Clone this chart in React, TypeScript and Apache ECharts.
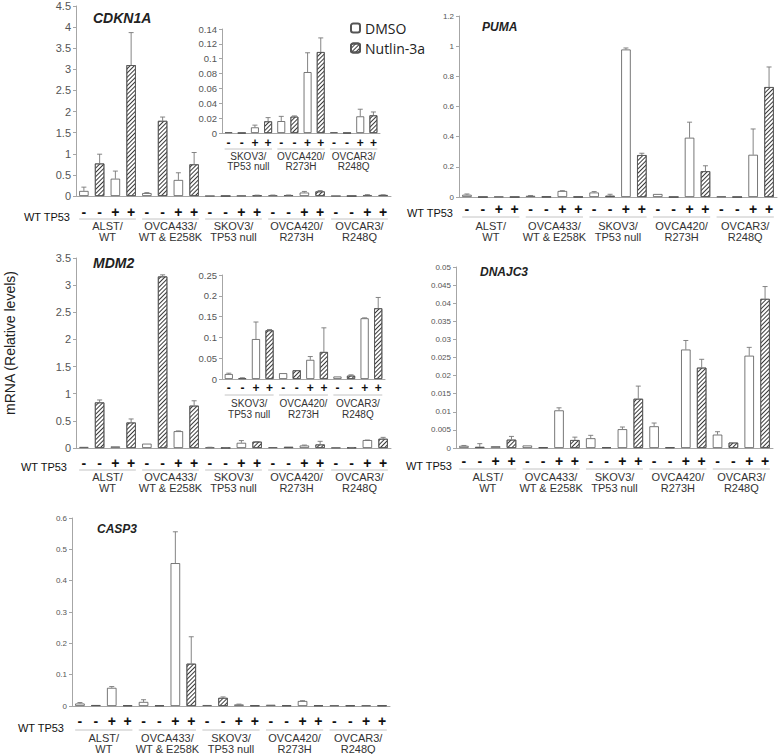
import React, { useEffect, useRef } from 'react';
import * as echarts from 'echarts';

// ---------- data ----------
const cellLines = ['ALST/\nWT', 'OVCA433/\nWT & E258K', 'SKOV3/\nTP53 null', 'OVCA420/\nR273H', 'OVCAR3/\nR248Q'];
const wtTP53 = ['-', '-', '+', '+'];
const treatments = ['DMSO', 'Nutlin-3a', 'DMSO', 'Nutlin-3a'];
const legendNames = ['DMSO', 'Nutlin-3a'];
const conditionLabels = cellLines.flatMap(() => wtTP53);

const cdkn1aMean = [0.12, 0.77, 0.41, 3.1, 0.07, 1.78, 0.38, 0.75, 0.001, 0, 0.0076, 0.0157, 0.016, 0.022, 0.082, 0.109, 0.001, 0, 0.0224, 0.0238];
const cdkn1aErr = [0.09, 0.22, 0.18, 0.77, 0.01, 0.09, 0.17, 0.28, 0, 0, 0.003, 0.005, 0.0064, 0.001, 0.026, 0.019, 0, 0, 0.0096, 0.0045];

const pumaMean = [0.015, 0, 0.002, 0, 0.008, 0.002, 0.04, 0.001, 0.03, 0.008, 0.978, 0.278, 0.02, 0, 0.393, 0.171, 0.003, 0, 0.28, 0.729];
const pumaErr = [0.005, 0, 0, 0, 0.002, 0, 0.002, 0, 0.006, 0.01, 0.01, 0.012, 0, 0, 0.103, 0.036, 0, 0, 0.171, 0.133];

const mdm2Mean = [0.02, 0.84, 0.03, 0.47, 0.08, 3.16, 0.31, 0.78, 0.012, 0.002, 0.096, 0.117, 0.014, 0.021, 0.046, 0.065, 0.006, 0.008, 0.146, 0.17];
const mdm2Err = [0, 0.045, 0, 0.065, 0, 0.03, 0.005, 0.09, 0.002, 0.001, 0.041, 0.002, 0, 0, 0.008, 0.058, 0, 0.002, 0.001, 0.026];

const dnajc3Mean = [0.0006, 0.0003, 0.0005, 0.0023, 0.0007, 0.0002, 0.0104, 0.0022, 0.0027, 0.0002, 0.0052, 0.0136, 0.006, 0.0002, 0.0272, 0.0222, 0.0037, 0.0015, 0.0255, 0.0412];
const dnajc3Err = [0.0001, 0.0009, 0, 0.0009, 0, 0, 0.0007, 0.0008, 0.0008, 0, 0.0006, 0.0035, 0.0009, 0, 0.0025, 0.0023, 0.0008, 0, 0.0023, 0.0034];

const casp3Mean = [0.008, 0.003, 0.058, 0.002, 0.013, 0.002, 0.456, 0.135, 0.003, 0.026, 0.005, 0.002, 0.004, 0.002, 0.016, 0.002, 0.002, 0.002, 0.002, 0.002];
const casp3Err = [0.003, 0, 0.004, 0, 0.007, 0, 0.1, 0.086, 0, 0.003, 0.001, 0, 0, 0, 0.001, 0, 0, 0, 0, 0];

const geneNames = ['CDKN1A', 'PUMA', 'MDM2', 'DNAJC3', 'CASP3'];
const rowLabel = 'WT TP53';
const yAxisTitle = 'mRNA (Relative levels)';

// ---------- layout ----------
type Panel = {
  mean: number[]; err: number[]; start: number;
  left: number; top: number; width: number; height: number;
  max: number; interval: number; tickSize: number;
  signSize: number; signMargin: number; groupSize: number; groupMargin: number; groupLH: number; underline: number;
};

const panels: Panel[] = [
  { mean: cdkn1aMean, err: cdkn1aErr, start: 0, left: 76, top: 6, width: 315, height: 190, max: 4.5, interval: 0.5, tickSize: 11, signSize: 14, signMargin: 9, groupSize: 11, groupMargin: 24, groupLH: 11, underline: 23 },
  { mean: cdkn1aMean, err: cdkn1aErr, start: 8, left: 222, top: 29, width: 158, height: 104, max: 0.14, interval: 0.02, tickSize: 9.5, signSize: 12, signMargin: 4, groupSize: 10, groupMargin: 18, groupLH: 10, underline: 16 },
  { mean: pumaMean, err: pumaErr, start: 0, left: 459, top: 16, width: 318, height: 181, max: 1.2, interval: 0.2, tickSize: 8, signSize: 14, signMargin: 5, groupSize: 11, groupMargin: 23, groupLH: 11, underline: 20 },
  { mean: mdm2Mean, err: mdm2Err, start: 0, left: 76, top: 258, width: 315, height: 190, max: 3.5, interval: 0.5, tickSize: 11, signSize: 14, signMargin: 8, groupSize: 11, groupMargin: 23, groupLH: 11, underline: 22 },
  { mean: mdm2Mean, err: mdm2Err, start: 8, left: 222, top: 275, width: 163, height: 104, max: 0.25, interval: 0.05, tickSize: 9.5, signSize: 12, signMargin: 3, groupSize: 10, groupMargin: 19, groupLH: 11, underline: 16 },
  { mean: dnajc3Mean, err: dnajc3Err, start: 0, left: 456, top: 267, width: 317, height: 181, max: 0.05, interval: 0.005, tickSize: 8, signSize: 14, signMargin: 6, groupSize: 11, groupMargin: 23, groupLH: 11, underline: 21 },
  { mean: casp3Mean, err: casp3Err, start: 0, left: 72, top: 518, width: 318, height: 190, max: 0.6, interval: 0.1, tickSize: 8, signSize: 14, signMargin: 8, groupSize: 11, groupMargin: 26, groupLH: 11, underline: 24 },
];

const FONT = '"Liberation Sans", Arial, sans-serif';
const AXIS = '#a6a6a6';

const hatch = {
  symbol: 'rect',
  symbolSize: 1,
  color: '#3a3a3a',
  dashArrayX: [1, 0],
  dashArrayY: [1, 2],
  rotation: -Math.PI / 4,
};

function buildOption() {
  const grid: any[] = [];
  const xAxis: any[] = [];
  const yAxis: any[] = [];
  const series: any[] = [];

  panels.forEach((p, k) => {
    const mean = p.mean.slice(p.start);
    const err = p.err.slice(p.start);
    const conds = conditionLabels.slice(p.start);
    const groups = cellLines.slice(p.start / 4);
    const treat = mean.map((_, i) => treatments[(p.start + i) % 4]);

    grid.push({ left: p.left, top: p.top, width: p.width, height: p.height, containLabel: false });
    xAxis.push({
      type: 'category', gridIndex: k, position: 'bottom', data: conds,
      axisLine: { lineStyle: { color: AXIS, width: 1 } },
      axisTick: { length: 3, lineStyle: { color: AXIS } },
      axisLabel: { interval: 0, margin: p.signMargin, fontSize: p.signSize, fontWeight: 'bold', color: '#111' },
    });
    xAxis.push({
      type: 'category', gridIndex: k, position: 'bottom', data: groups,
      axisLine: { show: false }, axisTick: { show: false },
      axisLabel: { interval: 0, margin: p.groupMargin, fontSize: p.groupSize, lineHeight: p.groupLH, color: '#333' },
    });
    yAxis.push({
      type: 'value', gridIndex: k, min: 0, max: p.max, interval: p.interval,
      splitLine: { show: false },
      axisLine: { show: true, lineStyle: { color: AXIS } },
      axisTick: { show: true, length: 3, lineStyle: { color: AXIS } },
      axisLabel: { fontSize: p.tickSize, color: '#555', margin: 5 },
    });

    const xi = k * 2;
    series.push({
      type: 'bar', name: legendNames[0], xAxisIndex: xi, yAxisIndex: k,
      data: mean.map((v, i) => (treat[i] === legendNames[0] ? v : '-')),
      barWidth: '60%', barGap: '-100%',
      itemStyle: { color: '#ffffff', borderColor: '#555', borderWidth: 0.8 },
    });
    series.push({
      type: 'bar', name: legendNames[1], xAxisIndex: xi, yAxisIndex: k,
      data: mean.map((v, i) => (treat[i] === legendNames[1] ? v : '-')),
      barWidth: '60%', barGap: '-100%',
      itemStyle: { color: '#ffffff', borderColor: '#555', borderWidth: 0.8, decal: hatch },
    });
    series.push({
      type: 'custom', name: 'err' + k, xAxisIndex: xi, yAxisIndex: k, z: 5,
      data: mean.map((v, i) => [i, v, err[i]]).filter((d) => d[2] > 0),
      encode: { x: 0, y: 1 },
      renderItem: (params: any, api: any) => {
        const x = api.value(0), v = api.value(1), e = api.value(2);
        const a = api.coord([x, v]);
        const b = api.coord([x, v + e]);
        const half = 2.5;
        return {
          type: 'group',
          children: [
            { type: 'line', shape: { x1: a[0], y1: a[1], x2: b[0], y2: b[1] }, style: { stroke: '#777', lineWidth: 0.9 } },
            { type: 'line', shape: { x1: b[0] - half, y1: b[1], x2: b[0] + half, y2: b[1] }, style: { stroke: '#777', lineWidth: 0.9 } },
          ],
        };
      },
    });
    series.push({
      type: 'custom', name: 'line' + k, xAxisIndex: xi + 1, yAxisIndex: k, clip: false, silent: true,
      data: groups.map((_, g) => [g, 0]),
      encode: { x: 0, y: 1 },
      renderItem: (params: any, api: any) => {
        const c = api.coord([api.value(0), 0]);
        const w = api.size([1, 0])[0];
        const y = c[1] + p.underline;
        return { type: 'line', shape: { x1: c[0] - w * 0.45, y1: y, x2: c[0] + w * 0.45, y2: y }, style: { stroke: '#c4c4c4', lineWidth: 1 } };
      },
    });
  });

  const geneText = (text: string, x: number, y: number, size: number) => ({
    type: 'text', x, y,
    style: { text, fontSize: size, fontWeight: 'bold', fontStyle: 'italic', fill: '#222', fontFamily: FONT, textVerticalAlign: 'middle' },
  });
  const rowText = (x: number, y: number) => ({
    type: 'text', x, y,
    style: { text: rowLabel, fontSize: 11, fill: '#111', fontFamily: FONT, textAlign: 'right', textVerticalAlign: 'middle' },
  });

  const graphic: any[] = [
    geneText(geneNames[0], 93, 18, 14),
    geneText(geneNames[1], 482, 27, 12),
    geneText(geneNames[2], 93, 263, 14),
    geneText(geneNames[3], 480, 272, 12),
    geneText(geneNames[4], 97, 529, 12),
    rowText(70, 217),
    rowText(453, 213),
    rowText(67, 467),
    rowText(452, 466),
    rowText(64, 728),
    {
      type: 'text', x: 10, y: 343, rotation: Math.PI / 2,
      style: { text: yAxisTitle, fontSize: 14, fill: '#222', fontFamily: FONT, textAlign: 'center', textVerticalAlign: 'middle' },
    },
  ];

  return {
    animation: false,
    backgroundColor: '#ffffff',
    textStyle: { fontFamily: FONT },
    legend: {
      data: legendNames, orient: 'vertical', left: 345, top: 16, itemWidth: 9, itemHeight: 9, itemGap: 6,
      selectedMode: false,
      textStyle: { fontSize: 14, color: '#222', fontFamily: '"Open Sans", ' + FONT },
    },
    grid, xAxis, yAxis, series, graphic,
  };
}

export default function App() {
  const ref = useRef<HTMLDivElement>(null);
  useEffect(() => {
    if (!ref.current) return;
    const chart = echarts.init(ref.current, undefined, { renderer: 'svg' });
    chart.setOption(buildOption() as any);
    return () => chart.dispose();
  }, []);
  return <div ref={ref} style={{ position: 'fixed', left: 0, top: 0, width: 779, height: 754, background: '#fff' }} />;
}
